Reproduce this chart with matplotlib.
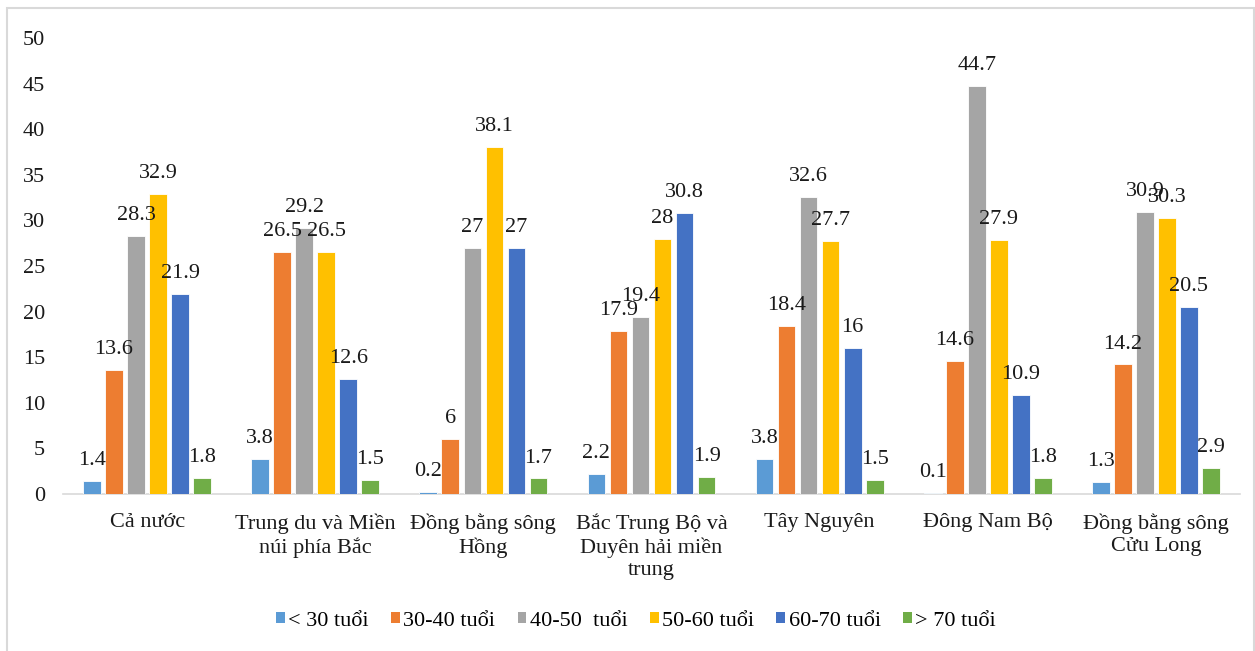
import matplotlib
matplotlib.use("Agg")
import matplotlib.pyplot as plt
from matplotlib.patches import Patch, Rectangle
import numpy as np

categories = ["Cả nước", "Trung du và Miền\nnúi phía Bắc", "Đồng bằng sông\nHồng",
              "Bắc Trung Bộ và\nDuyên hải miền\ntrung", "Tây Nguyên", "Đông Nam Bộ",
              "Đồng bằng sông\nCửu Long"]
series_names = ["< 30 tuổi", "30-40 tuổi", "40-50  tuổi", "50-60 tuổi", "60-70 tuổi", "> 70 tuổi"]
s_lt30 = [1.4, 3.8, 0.2, 2.2, 3.8, 0.1, 1.3]
s_30_40 = [13.6, 26.5, 6, 17.9, 18.4, 14.6, 14.2]
s_40_50 = [28.3, 29.2, 27, 19.4, 32.6, 44.7, 30.9]
s_50_60 = [32.9, 26.5, 38.1, 28, 27.7, 27.9, 30.3]
s_60_70 = [21.9, 12.6, 27, 30.8, 16, 10.9, 20.5]
s_gt70 = [1.8, 1.5, 1.7, 1.9, 1.5, 1.8, 2.9]
series = [s_lt30, s_30_40, s_40_50, s_50_60, s_60_70, s_gt70]
colors = ["#5B9BD5", "#ED7D31", "#A5A5A5", "#FFC000", "#4472C4", "#70AD47"]
yticks = [0, 5, 10, 15, 20, 25, 30, 35, 40, 45, 50]

plt.rcParams['font.family'] = ['Liberation Serif', 'DejaVu Serif']
FS = 16

fig = plt.figure(figsize=(12.55, 6.51), dpi=100)
ax = fig.add_axes([63/1255, 1-494/651, (1240-63)/1255, (494-38)/651])

x = np.arange(len(categories))
step = 0.131
width = 0.105
for i, (vals, c) in enumerate(zip(series, colors)):
    pos = x + (i - 2.5) * step
    ax.bar(pos, vals, width=width, color=c, edgecolor='white', linewidth=0.6, zorder=3)
    for p, v in zip(pos, vals):
        ax.annotate(f"{v:g}", (p, v), xytext=(0, 11.5), textcoords='offset points',
                    ha='center', va='baseline', fontsize=FS, color='#1a1a1a', zorder=4)

ax.set_xlim(-0.5, len(categories) - 0.5)
ax.set_ylim(0, 50)
ax.set_yticks(yticks)
ax.set_yticklabels([str(t) for t in yticks], fontsize=FS)
ax.set_xticks(x)
ax.set_xticklabels(categories, fontsize=FS, linespacing=1.23)
ax.tick_params(axis='both', length=0)
ax.tick_params(axis='y', pad=13)
ax.tick_params(axis='x', pad=14)
for s in ['top', 'right', 'left']:
    ax.spines[s].set_visible(False)
ax.spines['bottom'].set_color('#D9D9D9')
ax.spines['bottom'].set_linewidth(1.2)
for lbl in ax.get_yticklabels() + ax.get_xticklabels():
    lbl.set_color('#1a1a1a')

handles = [Patch(facecolor=c, edgecolor='none', label=n) for c, n in zip(colors, series_names)]
fig.legend(handles=handles, loc='center', bbox_to_anchor=(636/1255, 1-621/651), ncol=6,
           frameon=False, fontsize=FS, handlelength=0.4, handleheight=0.4,
           handletextpad=0.15, columnspacing=1.0)

fig.patches.append(Rectangle((7/1255, -0.05), (1254-7)/1255, 1.05 - 8/651, transform=fig.transFigure,
                             fill=False, edgecolor='#D9D9D9', linewidth=1.5))

fig.savefig("out.png", dpi=100)
